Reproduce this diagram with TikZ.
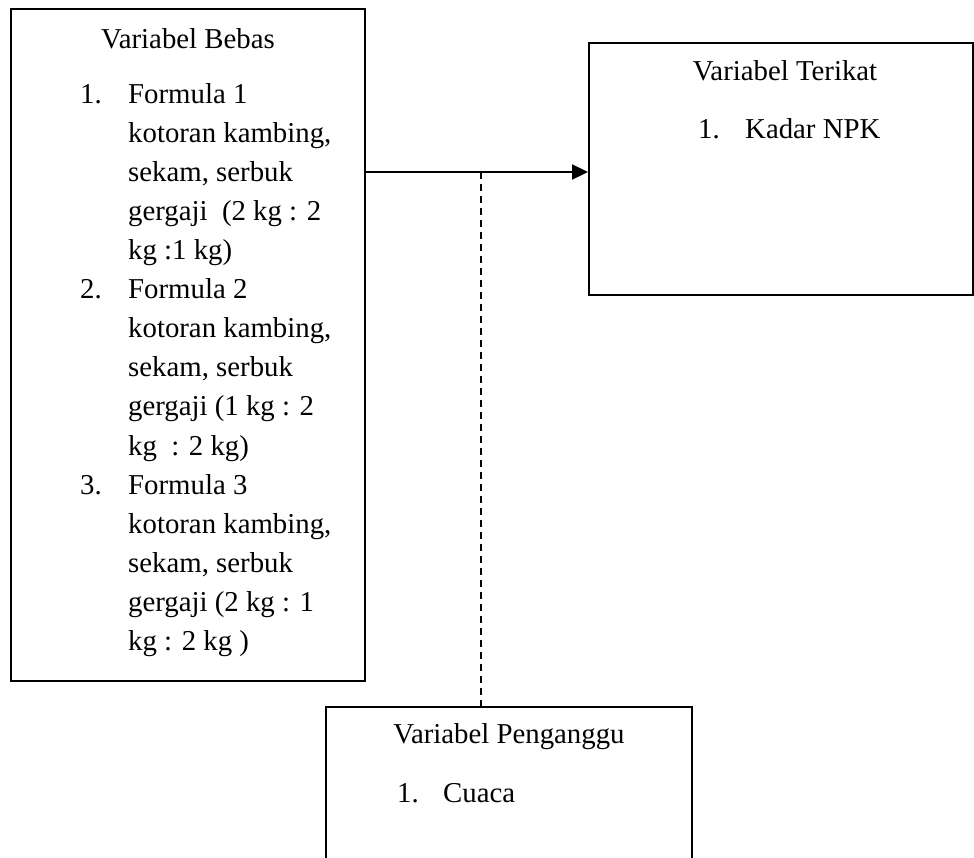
\documentclass[tikz,border=0pt]{standalone}
\usepackage{fontspec}
\setmainfont{Liberation Serif}
\usetikzlibrary{arrows.meta}
\begin{document}
\begin{tikzpicture}[x=1pt,y=-1pt,
  box/.style={draw=black, line width=2pt, rectangle, inner sep=0pt},
  txt/.style={inner sep=0pt, font=\fontsize{28.8}{34}\selectfont},
  arrowline/.style={line width=2.2pt, -{Triangle[length=16pt,width=15pt]}},
  dashline/.style={line width=1.5pt, dash pattern=on 7pt off 5pt}]
\useasboundingbox (0,0) rectangle (974,857);
\clip (0,0) rectangle (974,857);
\fill[white] (0,0) rectangle (974,857);
% boxes
\node[box, minimum width=354pt, minimum height=672pt] (bebas) at (188,345) {};
\node[box, minimum width=384pt, minimum height=252pt] (terikat) at (781,169) {};
\node[box, minimum width=366pt, minimum height=180pt] (ganggu) at (509,797) {};
% left box text
\node[txt, anchor=base] (tbebas) at (188,48) {Variabel Bebas};
\node[txt, anchor=base west] (n1) at (80,103) {1.};
\node[txt, anchor=base west] (n2) at (80,298) {2.};
\node[txt, anchor=base west] (n3) at (80,494) {3.};
\node[txt, anchor=base west] (l1) at (128,103) {Formula 1};
\node[txt, anchor=base west] (l2) at (128,142) {kotoran kambing,};
\node[txt, anchor=base west] (l3) at (128,181) {sekam, serbuk};
\node[txt, anchor=base west] (l4) at (128,220) {gergaji\ \ (2 kg : 2};
\node[txt, anchor=base west] (l5) at (128,259) {kg :1 kg)};
\node[txt, anchor=base west] (l6) at (128,298) {Formula 2};
\node[txt, anchor=base west] (l7) at (128,337) {kotoran kambing,};
\node[txt, anchor=base west] (l8) at (128,376) {sekam, serbuk};
\node[txt, anchor=base west] (l9) at (128,415) {gergaji (1 kg : 2};
\node[txt, anchor=base west] (l10) at (128,455) {kg\ \ : 2 kg)};
\node[txt, anchor=base west] (l11) at (128,494) {Formula 3};
\node[txt, anchor=base west] (l12) at (128,533) {kotoran kambing,};
\node[txt, anchor=base west] (l13) at (128,572) {sekam, serbuk};
\node[txt, anchor=base west] (l14) at (128,611) {gergaji (2 kg : 1};
\node[txt, anchor=base west] (l15) at (128,650) {kg : 2 kg )};
% right box text
\node[txt, anchor=base] (tterikat) at (785,80) {Variabel Terikat};
\node[txt, anchor=base west] (rn1) at (698,138) {1.};
\node[txt, anchor=base west] (r1) at (745,138) {Kadar NPK};
% bottom box text
\node[txt, anchor=base] (tganggu) at (509,743) {Variabel Penganggu};
\node[txt, anchor=base west] (bn1) at (397,802) {1.};
\node[txt, anchor=base west] (b1) at (443,802) {Cuaca};
% connectors
\coordinate (a) at (0,172);
\coordinate (d) at (481,172);
\draw[arrowline] (bebas.east |- a) -- (terikat.west |- a);
\draw[dashline] (d) -- (d |- ganggu.north);
\end{tikzpicture}
\end{document}
